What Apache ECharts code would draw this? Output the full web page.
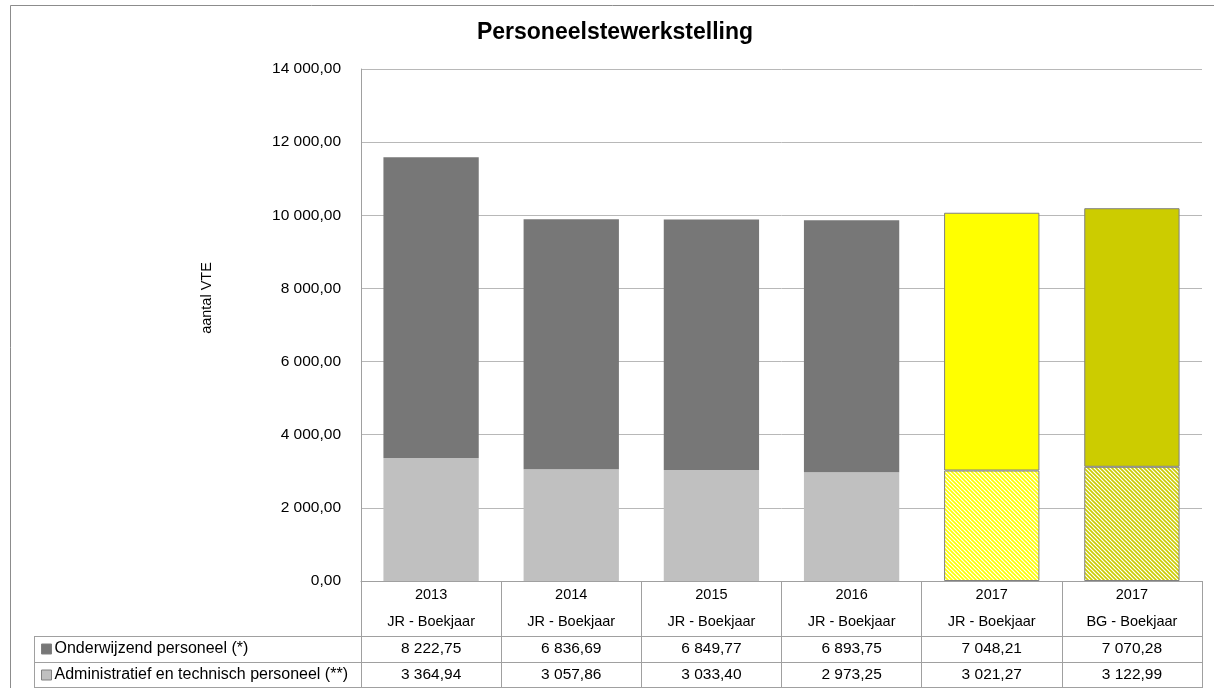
<!DOCTYPE html>
<html><head><meta charset="utf-8">
<script src="https://cdn.jsdelivr.net/npm/echarts@6/dist/echarts.min.js"></script>
<style>html,body{margin:0;padding:0;background:#fff}#c{width:1214px;height:688px}</style>
</head><body><div id="c"></div>
<script>
// ---- data ----
const years = ['2013', '2014', '2015', '2016', '2017', '2017'];
const kinds = ['JR - Boekjaar', 'JR - Boekjaar', 'JR - Boekjaar', 'JR - Boekjaar', 'JR - Boekjaar', 'BG - Boekjaar'];
const onderwijzend = [8222.75, 6836.69, 6849.77, 6893.75, 7048.21, 7070.28];
const administratief = [3364.94, 3057.86, 3033.40, 2973.25, 3021.27, 3122.99];
const seriesNames = ['Onderwijzend personeel (*)', 'Administratief en technisch personeel (**)'];
const yMin = 0, yMax = 14000, yStep = 2000;
const titleText = 'Personeelstewerkstelling';
const yName = 'aantal VTE';

// ---- styling ----
const FONT = 'Liberation Sans, Arial, sans-serif';
const BORDER = '#A0A0A0';
function fmt(v) {
  const p = v.toFixed(2).split('.');
  return p[0].replace(/\B(?=(\d{3})+(?!\d))/g, ' ') + ',' + p[1];
}
function hatch(color) {
  const c = document.createElement('canvas');
  c.width = c.height = 4;
  const g = c.getContext('2d');
  g.fillStyle = '#ffffff'; g.fillRect(0, 0, 4, 4);
  g.strokeStyle = color; g.lineWidth = 1.6;
  g.beginPath();
  for (const o of [-4, 0, 4]) { g.moveTo(o - 1, -1); g.lineTo(o + 5, 5); }
  g.stroke();
  return c;
}
const edge = { borderColor: '#808080', borderWidth: 1 };
const topStyles = [
  { color: '#777777' }, { color: '#777777' }, { color: '#777777' }, { color: '#777777' },
  Object.assign({ color: '#FFFF00' }, edge), Object.assign({ color: '#CCCC00' }, edge)
];
const bottomStyles = [
  { color: '#C0C0C0' }, { color: '#C0C0C0' }, { color: '#C0C0C0' }, { color: '#C0C0C0' },
  Object.assign({ color: { image: hatch('#FFFF00'), repeat: 'repeat' } }, edge),
  Object.assign({ color: { image: hatch('#CCCC00'), repeat: 'repeat' } }, edge)
];

const chart = echarts.init(document.getElementById('c'), null, { renderer: 'canvas' });
const txt = (size) => ({ color: '#000', fontFamily: FONT, fontSize: size });

const legendBase = {
  padding: 0, itemWidth: 10, itemHeight: 10, itemGap: 4, icon: 'rect', selectedMode: false,
  textStyle: Object.assign({ lineHeight: 18, padding: [0, 0, 0, -2] }, txt(16)),
  itemStyle: { borderColor: '#808080', borderWidth: 1 }
};

const option = {
  animation: false,
  backgroundColor: '#fff',
  textStyle: { fontFamily: FONT },
  grid: { left: 361, right: 12, top: 69, bottom: 107, containLabel: false },
  legend: [
    Object.assign({ data: [seriesNames[0]], left: 41, top: 640 }, legendBase),
    Object.assign({ data: [seriesNames[1]], left: 41, top: 666 }, legendBase)
  ],
  xAxis: [
    { type: 'category', data: years.map((y, i) => y + '\n' + kinds[i]), position: 'bottom',
      axisLine: { lineStyle: { color: BORDER } },
      axisTick: { show: true, interval: 0, length: 107, lineStyle: { color: BORDER } },
      axisLabel: Object.assign({ interval: 0, margin: 0, lineHeight: 27 }, txt(14.5)) },
    { type: 'category', data: onderwijzend.map(fmt), position: 'bottom', offset: 55,
      axisLine: { show: false }, axisTick: { show: false },
      axisLabel: Object.assign({ interval: 0, margin: 0, lineHeight: 26 }, txt(15.5)) },
    { type: 'category', data: administratief.map(fmt), position: 'bottom', offset: 81,
      axisLine: { show: false }, axisTick: { show: false },
      axisLabel: Object.assign({ interval: 0, margin: 0, lineHeight: 26 }, txt(15.5)) }
  ],
  yAxis: {
    type: 'value', min: yMin, max: yMax, interval: yStep,
    axisLine: { show: true, lineStyle: { color: BORDER } },
    axisTick: { show: false },
    splitLine: { lineStyle: { color: '#B8B8B8' } },
    axisLabel: Object.assign({ margin: 20, formatter: v => fmt(v) }, txt(15.5))
  },
  series: [
    { name: seriesNames[1], type: 'bar', stack: 'tot', barWidth: '68%', xAxisIndex: 0,
      itemStyle: { color: '#C0C0C0' },
      data: administratief.map((v, i) => ({ value: v, itemStyle: bottomStyles[i] })) },
    { name: seriesNames[0], type: 'bar', stack: 'tot', barWidth: '68%', xAxisIndex: 0,
      itemStyle: { color: '#777777' },
      data: onderwijzend.map((v, i) => ({ value: v, itemStyle: topStyles[i] })) }
  ],
  graphic: [
    { type: 'rect', silent: true, shape: { x: 10.5, y: 5.5, width: 1400, height: 900 },
      style: { fill: 'none', stroke: '#8C8C8C', lineWidth: 1 } },
    { type: 'text', x: 615, y: 33, style: { text: titleText, font: 'bold 23px ' + FONT, fill: '#000',
      textAlign: 'center', textVerticalAlign: 'middle' } },
    { type: 'text', x: 207, y: 298, rotation: Math.PI / 2, style: { text: yName, font: '14.5px ' + FONT, fill: '#000',
      textAlign: 'center', textVerticalAlign: 'middle' } },
    { type: 'line', silent: true, shape: { x1: 34, y1: 636.5, x2: 1202, y2: 636.5 }, style: { stroke: BORDER } },
    { type: 'line', silent: true, shape: { x1: 34, y1: 662.5, x2: 1202, y2: 662.5 }, style: { stroke: BORDER } },
    { type: 'line', silent: true, shape: { x1: 34, y1: 687.5, x2: 1202, y2: 687.5 }, style: { stroke: BORDER } },
    { type: 'line', silent: true, shape: { x1: 34.5, y1: 636, x2: 34.5, y2: 688 }, style: { stroke: BORDER } }
  ]
};
chart.setOption(option);
</script></body></html>
